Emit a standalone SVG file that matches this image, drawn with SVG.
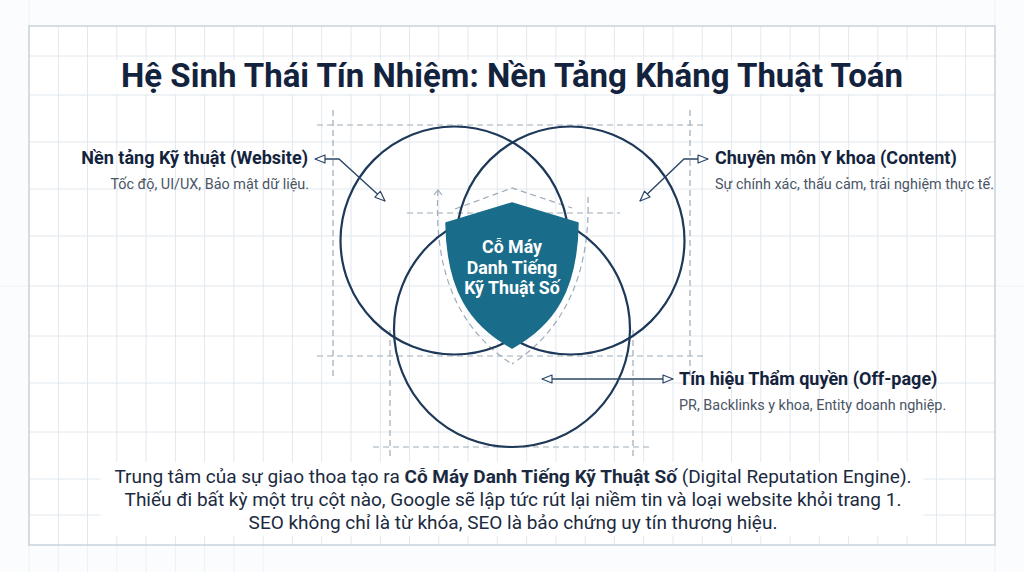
<svg xmlns="http://www.w3.org/2000/svg" width="1024" height="572" viewBox="0 0 1024 572">
  <defs>
    <style>
      .grid line { stroke: #e2e8ee; stroke-width: 1; }
      .gridout line { stroke: #eef1f4; stroke-width: 1; }
      .guide { fill: none; stroke: #9eabb8; stroke-width: 1.2; stroke-dasharray: 6 4; }
      .circle { fill: none; stroke: #1d3858; stroke-width: 2.2; }
      .conn { fill: none; stroke: #2b4666; stroke-width: 1.4; }
      .title { font-family: Roboto, "Liberation Sans", sans-serif; font-weight: 700; fill: #13233d; }
      .lbl { font-family: Roboto, "Liberation Sans", sans-serif; font-weight: 700; font-size: 18px; fill: #14233c; }
      .sub { font-family: Roboto, "Liberation Sans", sans-serif; font-size: 14.4px; fill: #4a5565; }
      .body { font-family: Roboto, "Liberation Sans", sans-serif; font-size: 19px; fill: #1b2a40; }
      .shieldtxt { font-family: Roboto, "Liberation Sans", sans-serif; font-weight: 700; font-size: 17.8px; fill: #ffffff; }
      .bg { fill: #ffffff; }
    </style>
    <marker id="arr" viewBox="0 0 12 10" refX="11" refY="5" markerWidth="12" markerHeight="10" markerUnits="userSpaceOnUse" orient="auto-start-reverse">
      <path d="M1,1 L11,5 L1,9 Z" fill="#ffffff" stroke="#2b4666" stroke-width="1.2" stroke-linejoin="round"/>
    </marker>
    <marker id="garr" viewBox="0 0 10 10" refX="5" refY="1" markerWidth="10" markerHeight="10" markerUnits="userSpaceOnUse" orient="0">
      <path d="M1,6 L5,1 L9,6" fill="none" stroke="#9eabb8" stroke-width="1.2"/>
    </marker>
  </defs>

  <rect width="1024" height="572" fill="#fbfcfd"/>

  <!-- outer faint grid -->
  <g class="gridout">
    <line x1="29" y1="0" x2="29" y2="572"/>
    <line x1="995" y1="0" x2="995" y2="572"/>
    <line x1="58.3" y1="545" x2="58.3" y2="572"/><line x1="87.5" y1="545" x2="87.5" y2="572"/>
    <line x1="116.8" y1="545" x2="116.8" y2="572"/><line x1="146.1" y1="545" x2="146.1" y2="572"/>
    <line x1="175.4" y1="545" x2="175.4" y2="572"/><line x1="204.6" y1="545" x2="204.6" y2="572"/>
    <line x1="233.9" y1="545" x2="233.9" y2="572"/><line x1="263.2" y1="545" x2="263.2" y2="572"/>
    <line x1="0" y1="286" x2="29" y2="286"/><line x1="995" y1="286" x2="1024" y2="286"/>
  </g>

  <!-- frame -->
  <rect x="29" y="26" width="966" height="519" fill="#ffffff"/>
  <g class="grid">
    <line x1="58.3" y1="26" x2="58.3" y2="545"/><line x1="87.5" y1="26" x2="87.5" y2="545"/>
    <line x1="116.8" y1="26" x2="116.8" y2="545"/><line x1="146.1" y1="26" x2="146.1" y2="545"/>
    <line x1="175.4" y1="26" x2="175.4" y2="545"/><line x1="204.6" y1="26" x2="204.6" y2="545"/>
    <line x1="233.9" y1="26" x2="233.9" y2="545"/><line x1="263.2" y1="26" x2="263.2" y2="545"/>
    <line x1="292.4" y1="26" x2="292.4" y2="545"/><line x1="321.7" y1="26" x2="321.7" y2="545"/>
    <line x1="351" y1="26" x2="351" y2="545"/><line x1="380.3" y1="26" x2="380.3" y2="545"/>
    <line x1="409.5" y1="26" x2="409.5" y2="545"/><line x1="438.8" y1="26" x2="438.8" y2="545"/>
    <line x1="468.1" y1="26" x2="468.1" y2="545"/><line x1="497.3" y1="26" x2="497.3" y2="545"/>
    <line x1="526.6" y1="26" x2="526.6" y2="545"/><line x1="555.9" y1="26" x2="555.9" y2="545"/>
    <line x1="585.2" y1="26" x2="585.2" y2="545"/><line x1="614.4" y1="26" x2="614.4" y2="545"/>
    <line x1="643.7" y1="26" x2="643.7" y2="545"/><line x1="673" y1="26" x2="673" y2="545"/>
    <line x1="702.2" y1="26" x2="702.2" y2="545"/><line x1="731.5" y1="26" x2="731.5" y2="545"/>
    <line x1="760.8" y1="26" x2="760.8" y2="545"/><line x1="790.1" y1="26" x2="790.1" y2="545"/>
    <line x1="819.3" y1="26" x2="819.3" y2="545"/><line x1="848.6" y1="26" x2="848.6" y2="545"/>
    <line x1="877.9" y1="26" x2="877.9" y2="545"/><line x1="907.1" y1="26" x2="907.1" y2="545"/>
    <line x1="936.4" y1="26" x2="936.4" y2="545"/><line x1="965.7" y1="26" x2="965.7" y2="545"/>
    <line x1="29" y1="56" x2="995" y2="56"/><line x1="29" y1="95" x2="995" y2="95"/>
    <line x1="29" y1="142" x2="995" y2="142"/><line x1="29" y1="189" x2="995" y2="189"/>
    <line x1="29" y1="236" x2="995" y2="236"/><line x1="29" y1="286" x2="995" y2="286"/>
    <line x1="29" y1="336" x2="995" y2="336"/><line x1="29" y1="383" x2="995" y2="383"/>
    <line x1="29" y1="432" x2="995" y2="432"/><line x1="29" y1="479" x2="995" y2="479"/>
    <line x1="29" y1="515" x2="995" y2="515"/>
  </g>
  <rect x="29" y="26" width="966" height="519" fill="none" stroke="#c8d2db" stroke-width="1.5"/>

  <!-- text backgrounds -->
  <rect class="bg" x="112" y="60" width="800" height="34" opacity="0.85"/>
  <rect class="bg" x="100" y="462" width="824" height="74" opacity="0.92"/>

  <!-- title -->
  <g id="title">
    <text class="title" x="512" y="87" font-size="33" text-anchor="middle">Hệ Sinh Thái Tín Nhiệm: Nền Tảng Kháng Thuật Toán</text>
  </g>

  <!-- dashed construction guides -->
  <g id="guides">
    <line class="guide" x1="317" y1="125" x2="707" y2="125"/>
    <line class="guide" x1="317" y1="356" x2="707" y2="356"/>
    <line class="guide" x1="333" y1="110" x2="333" y2="377"/>
    <line class="guide" x1="690" y1="110" x2="690" y2="377"/>
    <line class="guide" x1="390" y1="330" x2="390" y2="460"/>
    <line class="guide" x1="633" y1="330" x2="633" y2="460"/>
    <line class="guide" x1="373" y1="447" x2="653" y2="447"/>
    <line class="guide" x1="407" y1="213" x2="620" y2="213"/>
    <path class="guide" d="M455,209 L512,188 L572,208"/>
    <path class="guide" d="M438,190 C434,262 452,325 512,364" marker-start="url(#garr)"/>
    <path class="guide" d="M588,197 C590,262 572,325 512,364"/>
  </g>

  <!-- circles -->
  <g id="circle-website"><circle class="circle" cx="454.5" cy="240.5" r="114"/></g>
  <g id="circle-content"><circle class="circle" cx="570.5" cy="240.5" r="114"/></g>
  <g id="circle-offpage"><circle class="circle" cx="512" cy="329" r="118"/></g>

  <!-- shield -->
  <g id="shield">
    <path d="M512,203 L578,223 C577,290 554,325 512,348 C470,325 447,290 446,223 Z" fill="#1a6d8a" stroke="#1a6d8a" stroke-width="1.5" stroke-linejoin="round"/>
    <text class="shieldtxt" x="512" y="253" text-anchor="middle">Cỗ Máy</text>
    <text class="shieldtxt" x="512" y="274" text-anchor="middle">Danh Tiếng</text>
    <text class="shieldtxt" x="512" y="294" text-anchor="middle">Kỹ Thuật Số</text>
  </g>

  <!-- connectors -->
  <g id="connectors">
    <path class="conn" d="M315,159 H339 L385,201" marker-start="url(#arr)" marker-end="url(#arr)"/>
    <path class="conn" d="M640,201 L684,159 H708" marker-start="url(#arr)" marker-end="url(#arr)"/>
    <path class="conn" d="M542,379 H673" marker-start="url(#arr)" marker-end="url(#arr)"/>
  </g>

  <!-- labels -->
  <g id="label-website">
    <text class="lbl" x="308" y="164" text-anchor="end">Nền tảng Kỹ thuật (Website)</text>
    <text class="sub" x="309" y="189" text-anchor="end">Tốc độ, UI/UX, Bảo mật dữ liệu.</text>
  </g>
  <g id="label-content">
    <text class="lbl" x="715" y="164">Chuyên môn Y khoa (Content)</text>
    <text class="sub" x="715" y="189">Sự chính xác, thấu cảm, trải nghiệm thực tế.</text>
  </g>
  <g id="label-offpage">
    <text class="lbl" x="679" y="385">Tín hiệu Thẩm quyền (Off-page)</text>
    <text class="sub" x="679" y="410">PR, Backlinks y khoa, Entity doanh nghiệp.</text>
  </g>

  <!-- bottom text -->
  <g id="summary">
    <text class="body" x="513" y="483" text-anchor="middle">Trung tâm của sự giao thoa tạo ra <tspan font-weight="700">Cỗ Máy Danh Tiếng Kỹ Thuật Số</tspan> (Digital Reputation Engine).</text>
    <text class="body" x="513" y="506" text-anchor="middle">Thiếu đi bất kỳ một trụ cột nào, Google sẽ lập tức rút lại niềm tin và loại website khỏi trang 1.</text>
    <text class="body" x="513" y="529" text-anchor="middle">SEO không chỉ là từ khóa, SEO là bảo chứng uy tín thương hiệu.</text>
  </g>
</svg>
